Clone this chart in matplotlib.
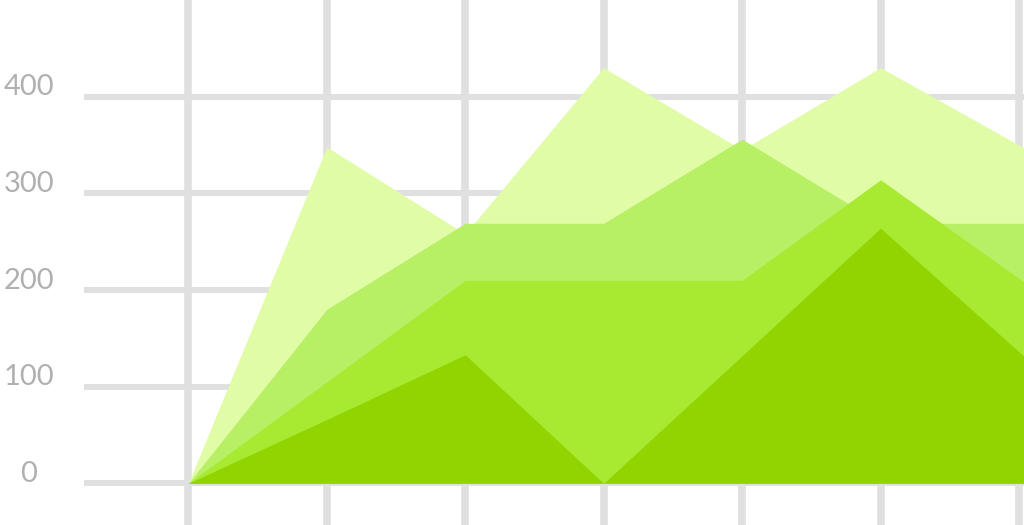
import numpy as np
import matplotlib.pyplot as plt
import matplotlib.transforms as mtransforms

# 7 visible categories plus the start of an 8th just past the right edge
x = np.arange(8)
# series drawn back to front
s_light = [0, 348, 258, 430, 345, 430, 350, 270]
s_mid = [0, 180, 269, 269, 356, 269, 269, 269]
s_bright = [0, 105, 210, 210, 210, 314, 212, 110]
s_dark = [0, 66, 133, 0, 132, 264, 136, 10]
yticks = [0, 100, 200, 300, 400]
ytick_labels = ['0', '100', '200', '300', '400']

colors = ['#e0fca6', '#b8f065', '#a8e932', '#92d400']
grid_c = '#e0e0e0'

fig = plt.figure(figsize=(10.24, 5.25), dpi=100)
ax = fig.add_axes([0, 0, 1, 1])
ax.set_xlim(-188.3 / 138.45, (1024 - 188.3) / 138.45)
ax.set_ylim(-43.1, 500)
ax.axis('off')

# grid
for xi in x[:7]:
    ax.axvline(xi, color=grid_c, lw=5.5, zorder=0)
for v in yticks:
    ax.axhline(v, xmin=87 / 1024, xmax=1, color=grid_c, lw=4.3, zorder=0)

for s, c in zip([s_light, s_mid, s_bright, s_dark], colors):
    ax.fill_between(x, 0, s, color=c, lw=0, zorder=2)

# y labels
off = mtransforms.ScaledTranslation(0, 9.5 / 100, fig.dpi_scale_trans)
trans = mtransforms.blended_transform_factory(fig.transFigure, ax.transData) + off
for v, t in zip(yticks, ytick_labels):
    ax.text(29 / 1024, v, t, transform=trans, ha='center', va='center',
            fontsize=21, color='#b0b0b0', family='Lato')

fig.savefig('out.png', dpi=100)
